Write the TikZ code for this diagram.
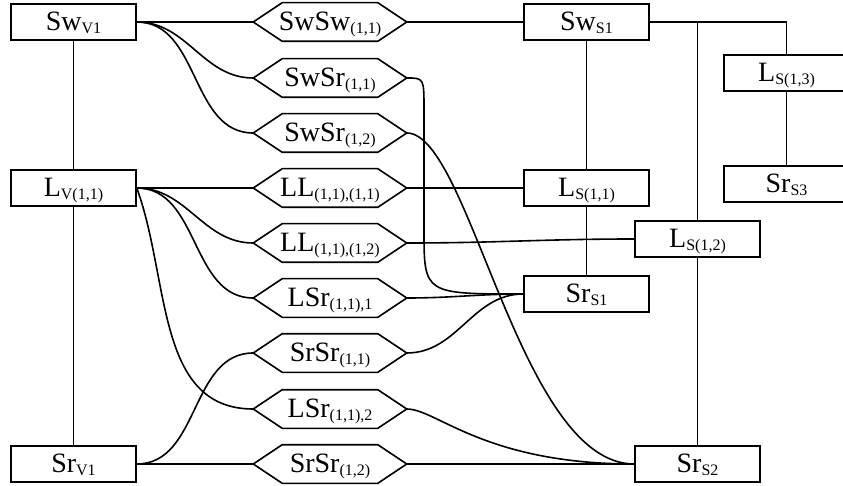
\documentclass[tikz,border=0pt]{standalone}
\usepackage{fontspec}
\setmainfont{Liberation Serif}
\newcommand{\sbs}[1]{\raisebox{-3pt}{\fontsize{16}{16}\selectfont #1}}

\begin{document}
\begin{tikzpicture}[x=1pt,y=-1pt,line width=1.6pt,
	box/.style={draw,rectangle,minimum width=125pt,minimum height=36pt,inner sep=0pt,
		text height=19pt,text depth=2pt,font=\fontsize{28}{30}\selectfont},
	hexa/.style={rectangle,minimum width=152pt,minimum height=37pt,inner sep=0pt,
		text height=19pt,text depth=2pt,font=\fontsize{28}{30}\selectfont}]
		\useasboundingbox (0,0) rectangle (843,486);
		% left column
		\node[box] (SwV1) at (73.5,22) {Sw\sbs{V1}};
		\node[box] (LV11) at (73.5,188) {L\sbs{V(1,1)}};
		\node[box] (SrV1) at (73.5,464) {Sr\sbs{V1}};
		% pairs
		\node[hexa] (SwSw11) at (330,22) {SwSw\sbs{(1,1)}};
		\node[hexa] (SwSr11) at (330,78) {SwSr\sbs{(1,1)}};
		\node[hexa] (SwSr12) at (330,133) {SwSr\sbs{(1,2)}};
		\node[hexa] (LL1111) at (330,188) {LL\sbs{(1,1),(1,1)}};
		\node[hexa] (LL1112) at (330,243) {LL\sbs{(1,1),(1,2)}};
		\node[hexa] (LSr111) at (330,298) {LSr\sbs{(1,1),1}};
		\node[hexa] (SrSr11) at (330,353) {SrSr\sbs{(1,1)}};
		\node[hexa] (LSr112) at (330,409) {LSr\sbs{(1,1),2}};
		\node[hexa] (SrSr12) at (330,464) {SrSr\sbs{(1,2)}};
		\foreach \n in {SwSw11,SwSr11,SwSr12,LL1111,LL1112,LSr111,SrSr11,LSr112,SrSr12}
			\draw (\n.west) -- ([xshift=29pt]\n.north west) -- ([xshift=-29pt]\n.north east)
				-- (\n.east) -- ([xshift=-29pt]\n.south east) -- ([xshift=29pt]\n.south west) -- cycle;
		% right side
		\node[box] (SwS1) at (586.5,22) {Sw\sbs{S1}};
		\node[box] (LS11) at (586.5,188) {L\sbs{S(1,1)}};
		\node[box] (SrS1) at (586.5,294) {Sr\sbs{S1}};
		\node[box] (LS12) at (697.5,239) {L\sbs{S(1,2)}};
		\node[box] (SrS2) at (697.5,464) {Sr\sbs{S2}};
		\node[box] (LS13) at (786.5,73) {L\sbs{S(1,3)}};
		\node[box] (SrS3) at (786.5,184) {Sr\sbs{S3}};

		\draw (SwV1) -- (LV11);
		\draw (LV11) -- (SrV1);
		\draw (SwS1) -- (LS11);
		\draw (LS11) -- (SrS1);
		\draw (SwS1.east) -| (LS12.north);
		\draw (SwS1.east) -| (LS13.north);
		\draw (LS12) -- (SrS2);
		\draw (LS13) -- (SrS3);

		\draw (SwV1.east) -- (SwSw11.west);
		\draw (SwSw11.east) -- (SwS1.west);
		\draw (SwV1.east) to[out=0,in=180] (SwSr11.west);
		\draw (SwV1.east) to[out=0,in=180] (SwSr12.west);
		\draw (SwSr11.east) .. controls (424,78) .. (424,110) -- (424,230) .. controls (424,294) .. (SrS1.west);
		\draw (SwSr12.east) .. controls +(63,0) and +(-115,0) .. (SrS2.west);

		\draw (LV11.east) -- (LL1111.west);
		\draw (LL1111.east) -- (LS11.west);
		\draw (LV11.east) to[out=0,in=180] (LL1112.west);
		\draw (LL1112.east) to[out=0,in=180] (LS12.west);
		\draw (LV11.east) to[out=0,in=180] (LSr111.west);
		\draw (LSr111.east) to[out=0,in=180] (SrS1.west);
		\draw (LV11.east) to[out=-70,in=180] (LSr112.west);
		\draw (LSr112.east) .. controls +(30,0) and +(-150,0) .. (SrS2.west);

		\draw (SrV1.east) to[out=0,in=180] (SrSr11.west);
		\draw (SrSr11.east) to[out=0,in=180] (SrS1.west);
		\draw (SrV1.east) -- (SrSr12.west);
		\draw (SrSr12.east) -- (SrS2.west);
	\end{tikzpicture}
\end{document}
